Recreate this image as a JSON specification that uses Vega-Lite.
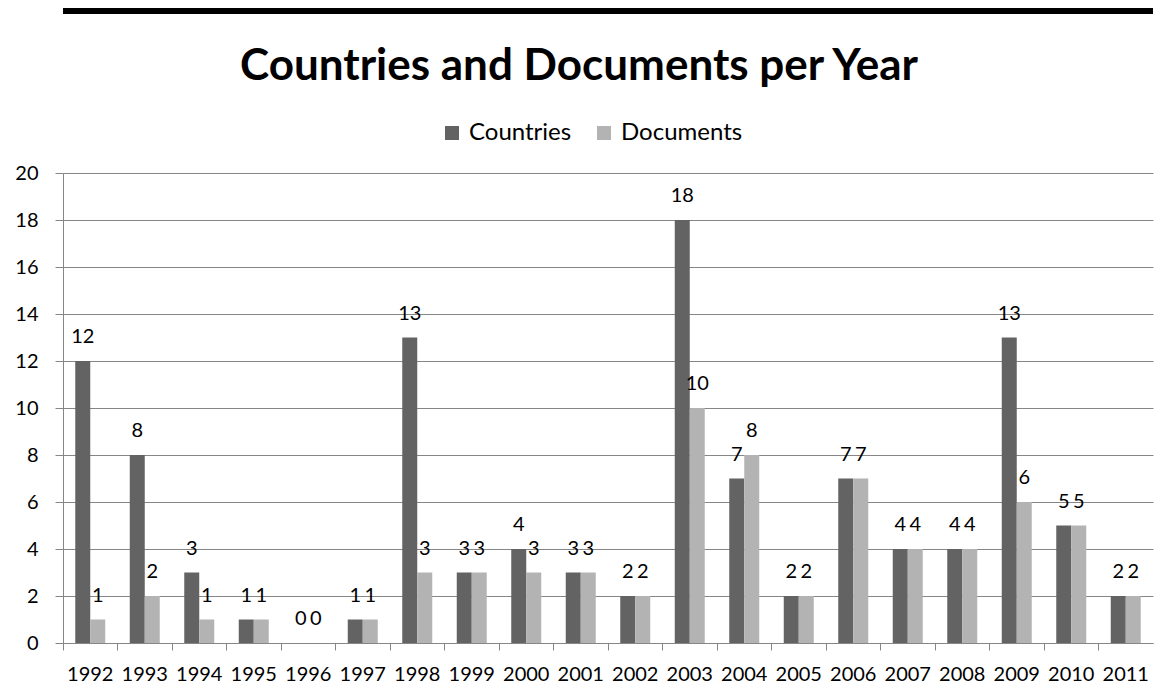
{
  "$schema": "https://vega.github.io/schema/vega-lite/v6.json",
  "width": 1090,
  "height": 470,
  "autosize": {"type": "none"},
  "padding": {"left": 63, "top": 173, "right": 5, "bottom": 43},
  "background": "white",
  "title": {"text": "Countries and Documents per Year", "font": "Lato", "fontSize": 44, "fontWeight": "bold", "color": "black", "anchor": "middle", "dx": -29, "offset": 0, "dy": 81},
  "data": {"values": [
    {"year": "1992", "series": "Countries", "value": 12}, {"year": "1992", "series": "Documents", "value": 1},
    {"year": "1993", "series": "Countries", "value": 8}, {"year": "1993", "series": "Documents", "value": 2},
    {"year": "1994", "series": "Countries", "value": 3}, {"year": "1994", "series": "Documents", "value": 1},
    {"year": "1995", "series": "Countries", "value": 1}, {"year": "1995", "series": "Documents", "value": 1},
    {"year": "1996", "series": "Countries", "value": 0}, {"year": "1996", "series": "Documents", "value": 0},
    {"year": "1997", "series": "Countries", "value": 1}, {"year": "1997", "series": "Documents", "value": 1},
    {"year": "1998", "series": "Countries", "value": 13}, {"year": "1998", "series": "Documents", "value": 3},
    {"year": "1999", "series": "Countries", "value": 3}, {"year": "1999", "series": "Documents", "value": 3},
    {"year": "2000", "series": "Countries", "value": 4}, {"year": "2000", "series": "Documents", "value": 3},
    {"year": "2001", "series": "Countries", "value": 3}, {"year": "2001", "series": "Documents", "value": 3},
    {"year": "2002", "series": "Countries", "value": 2}, {"year": "2002", "series": "Documents", "value": 2},
    {"year": "2003", "series": "Countries", "value": 18}, {"year": "2003", "series": "Documents", "value": 10},
    {"year": "2004", "series": "Countries", "value": 7}, {"year": "2004", "series": "Documents", "value": 8},
    {"year": "2005", "series": "Countries", "value": 2}, {"year": "2005", "series": "Documents", "value": 2},
    {"year": "2006", "series": "Countries", "value": 7}, {"year": "2006", "series": "Documents", "value": 7},
    {"year": "2007", "series": "Countries", "value": 4}, {"year": "2007", "series": "Documents", "value": 4},
    {"year": "2008", "series": "Countries", "value": 4}, {"year": "2008", "series": "Documents", "value": 4},
    {"year": "2009", "series": "Countries", "value": 13}, {"year": "2009", "series": "Documents", "value": 6},
    {"year": "2010", "series": "Countries", "value": 5}, {"year": "2010", "series": "Documents", "value": 5},
    {"year": "2011", "series": "Countries", "value": 2}, {"year": "2011", "series": "Documents", "value": 2}
  ]},
  "layer": [
    {
      "mark": {"type": "bar"},
      "encoding": {
        "x": {"field": "year", "type": "ordinal", "scale": {"paddingInner": 0, "paddingOuter": 0},
          "axis": {"title": null, "labelAngle": 0, "bandPosition": 0, "tickSize": 7, "labelPadding": 14, "labelFont": "Lato", "labelFontSize": 20, "labelColor": "black", "domainColor": "#868686", "tickColor": "#868686", "grid": false}},
        "xOffset": {"field": "series", "sort": ["Countries", "Documents"], "scale": {"paddingInner": 0, "paddingOuter": 0.8167}},
        "y": {"field": "value", "type": "quantitative", "scale": {"domain": [0, 20], "nice": false},
          "axis": {"title": null, "values": [0, 2, 4, 6, 8, 10, 12, 14, 16, 18, 20], "tickSize": 8, "labelPadding": 17, "labelFont": "Lato", "labelFontSize": 20, "labelColor": "black", "domainColor": "#868686", "tickColor": "#868686", "gridColor": "#868686", "gridOpacity": 1}},
        "color": {"field": "series", "type": "nominal", "sort": ["Countries", "Documents"], "scale": {"domain": ["Countries", "Documents"], "range": ["#636363", "#b3b3b3"]},
          "legend": {"title": null, "orient": "none", "legendX": 377, "legendY": -52, "direction": "horizontal", "symbolType": "square", "symbolSize": 196, "symbolStrokeWidth": 0, "labelFont": "Lato", "labelFontSize": 24, "labelColor": "black", "columnPadding": 20, "labelOffset": 5}}
      }
    },
    {
      "mark": {"type": "text", "font": "Lato", "fontSize": 20, "color": "black", "baseline": "alphabetic", "dy": -18},
      "encoding": {
        "x": {"field": "year", "type": "ordinal"},
        "xOffset": {"field": "series", "sort": ["Countries", "Documents"]},
        "y": {"field": "value", "type": "quantitative"},
        "text": {"field": "value", "type": "quantitative"}
      }
    },
    {
      "data": {"values": [{}]},
      "mark": {"type": "rule", "color": "black", "strokeWidth": 6, "clip": false},
      "encoding": {"y": {"datum": 26.89, "type": "quantitative"}}
    }
  ],
  "config": {"view": {"stroke": null}}
}
